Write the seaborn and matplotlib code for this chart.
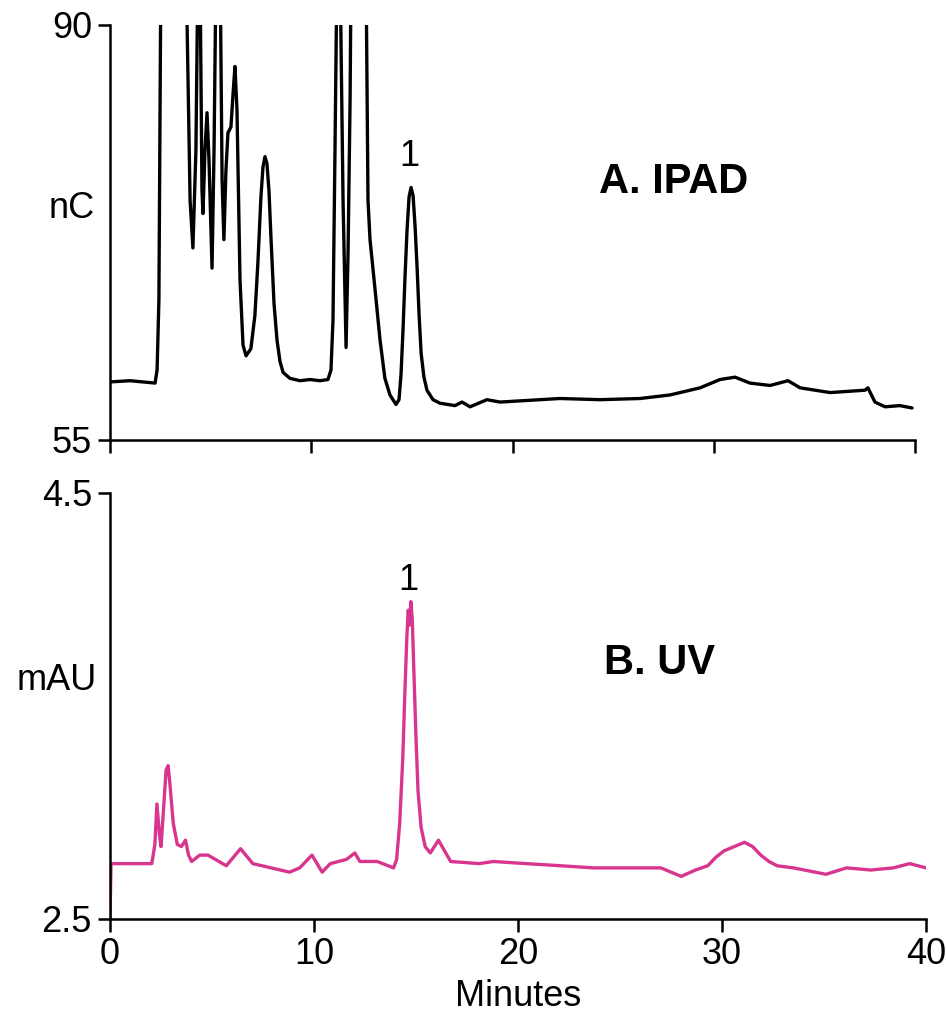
import matplotlib
matplotlib.use("Agg")
import matplotlib.pyplot as plt
import seaborn as sns
import pandas as pd

# --- IPAD trace (minutes, nC); values above 90 run off the top of the panel ---
ipad_min = [0.0, 1.0, 2.24, 2.34, 2.43, 2.53, 3.78, 3.98, 4.12, 4.27, 4.37, 4.47,
            4.57, 4.62, 4.72, 4.82, 4.92, 5.07, 5.17, 5.27, 5.47, 5.57, 5.66, 5.76,
            5.86, 6.01, 6.11, 6.21, 6.31, 6.46, 6.61, 6.76, 7.0, 7.2, 7.35, 7.5, 7.6,
            7.7, 7.8, 7.9, 8.0, 8.15, 8.3, 8.45, 8.6, 8.94, 9.44, 9.94, 10.43, 10.83,
            10.98, 11.08, 11.18, 11.28, 11.43, 11.58, 11.73, 11.83, 11.93, 11.98, 12.72,
            12.82, 12.92, 13.17, 13.42, 13.66, 13.91, 14.21, 14.36, 14.46, 14.56, 14.66,
            14.76, 14.86, 14.96, 15.06, 15.16, 15.26, 15.36, 15.46, 15.6, 15.75, 16.05,
            16.40, 17.14, 17.49, 17.89, 18.73, 19.38, 21.37, 22.36, 24.35, 26.34, 27.83,
            29.32, 30.31, 31.06, 31.80, 32.80, 33.69, 34.29, 35.78, 37.52, 37.66, 38.01,
            38.51, 39.25, 39.85]
ipad_nc = [59.9, 60.0, 59.8, 60.9, 66.8, 95.0, 95.0, 75.2, 71.2, 79.5, 95.0, 95.0,
           76.1, 74.1, 79.5, 82.6, 78.6, 69.5, 79.5, 95.0, 95.0, 76.9, 71.9, 77.7,
           80.9, 81.4, 84.1, 86.5, 82.8, 68.5, 63.0, 62.1, 62.7, 65.5, 70.0, 75.5, 78.0,
           78.9, 78.3, 76.0, 72.0, 66.5, 63.4, 61.6, 60.7, 60.2, 60.0, 60.1, 60.0, 60.1,
           60.9, 65.1, 79.5, 95.0, 95.0, 75.2, 62.8, 71.0, 83.7, 95.0, 95.0,
           75.2, 71.9, 67.7, 63.4, 60.2, 58.8, 58.0, 58.4, 60.5, 64.3, 68.8,
           72.7, 75.5, 76.3, 75.6, 73.0, 69.5, 65.5, 62.3, 60.3, 59.2, 58.4,
           58.1, 57.9, 58.2, 57.8, 58.4, 58.2, 58.4, 58.5, 58.4, 58.5, 58.8,
           59.4, 60.1, 60.3, 59.8, 59.6, 60.0, 59.4, 59.0, 59.2, 59.4, 58.2,
           57.8, 57.9, 57.7]

# --- UV trace (minutes, mAU) ---
uv_min = [0.0, 0.05, 1.0, 2.05, 2.2, 2.3, 2.42, 2.5, 2.6, 2.75, 2.85, 2.95, 3.1, 3.3,
          3.5, 3.7, 3.85, 4.0, 4.4, 4.8, 5.7, 6.4, 7.0, 8.8, 9.3, 9.9, 10.4, 10.8,
          11.6, 12.0, 12.25, 13.1, 13.9, 14.05, 14.2, 14.35, 14.45, 14.55, 14.62,
          14.68, 14.75, 14.82, 14.9, 15.0, 15.1, 15.25, 15.45, 15.7, 16.1, 16.7,
          18.1, 18.8, 20.4, 22.1, 23.7, 25.3, 27.0, 28.0, 28.7, 29.3, 29.7, 30.1,
          30.6, 31.1, 31.5, 31.9, 32.3, 32.7, 33.5, 35.1, 36.1, 37.3, 38.4, 39.2, 40.0]
uv_mau = [2.5, 2.76, 2.76, 2.76, 2.85, 3.04, 2.90, 2.84, 2.98, 3.20, 3.22, 3.12, 2.95,
          2.85, 2.84, 2.87, 2.80, 2.77, 2.80, 2.80, 2.75, 2.83, 2.76, 2.72, 2.74, 2.80,
          2.72, 2.76, 2.78, 2.81, 2.77, 2.77, 2.74, 2.78, 2.95, 3.25, 3.55, 3.82, 3.95,
          3.88, 3.99, 3.90, 3.65, 3.35, 3.10, 2.93, 2.84, 2.81, 2.87, 2.77,
          2.76, 2.77, 2.76, 2.75, 2.74, 2.74, 2.74, 2.70, 2.73, 2.75, 2.79, 2.82,
          2.84, 2.86, 2.84, 2.80, 2.77, 2.75, 2.74, 2.71, 2.74, 2.73, 2.74, 2.76, 2.74]

x_ticks = [0, 10, 20, 30, 40]

sns.set_theme(style="ticks")
plt.rcParams['font.family'] = ['Liberation Sans', 'DejaVu Sans']
plt.rcParams['text.color'] = 'black'
plt.rcParams['axes.labelcolor'] = 'black'
plt.rcParams['axes.edgecolor'] = 'black'

fig = plt.figure(figsize=(9.46, 10.16), dpi=100)
ax1 = fig.add_axes([110 / 946, 576 / 1016, 805 / 946, 415 / 1016])
ax2 = fig.add_axes([110 / 946, 97 / 1016, 816 / 946, 426 / 1016])

ipad = pd.DataFrame({"Minutes": ipad_min, "nC": ipad_nc})
uv = pd.DataFrame({"Minutes": uv_min, "mAU": uv_mau})

sns.lineplot(data=ipad, x="Minutes", y="nC", ax=ax1, color="black", linewidth=2.4,
             estimator=None, sort=False)
sns.lineplot(data=uv, x="Minutes", y="mAU", ax=ax2, color="#d8358f", linewidth=2.4,
             estimator=None, sort=False)

for ax in (ax1, ax2):
    sns.despine(ax=ax)
    ax.spines['left'].set_linewidth(1.8)
    ax.spines['bottom'].set_linewidth(1.8)
    ax.tick_params(axis='both', direction='out', length=9, width=1.8,
                   labelsize=26, pad=4, colors='black')
    ax.set_xlim(0, 40)
    ax.set_xticks(x_ticks)
    ax.set_ylabel("")

ax1.set_ylim(55, 90)
ax1.set_yticks([55, 90])
ax1.set_xticklabels([])
ax1.set_xlabel("")
ax1.text(-0.019, 0.559, "nC", transform=ax1.transAxes, fontsize=26,
         ha='right', va='center')
ax1.text(14.85, 78.9, "1", fontsize=26, ha='center', va='center')
ax1.text(24.3, 76.8, "A. IPAD", fontsize=30, fontweight='bold', ha='left', va='center')

ax2.set_ylim(2.5, 4.5)
ax2.set_yticks([2.5, 4.5])
ax2.set_yticklabels(["2.5", "4.5"])
ax2.set_xticklabels([str(t) for t in x_ticks])
ax2.set_xlabel("Minutes", fontsize=26, labelpad=5)
ax2.text(-0.016, 0.56, "mAU", transform=ax2.transAxes, fontsize=26,
         ha='right', va='center')
ax2.text(14.6, 4.09, "1", fontsize=26, ha='center', va='center')
ax2.text(24.2, 3.70, "B. UV", fontsize=30, fontweight='bold', ha='left', va='center')

fig.savefig("out.png", dpi=100)
plt.close(fig)
